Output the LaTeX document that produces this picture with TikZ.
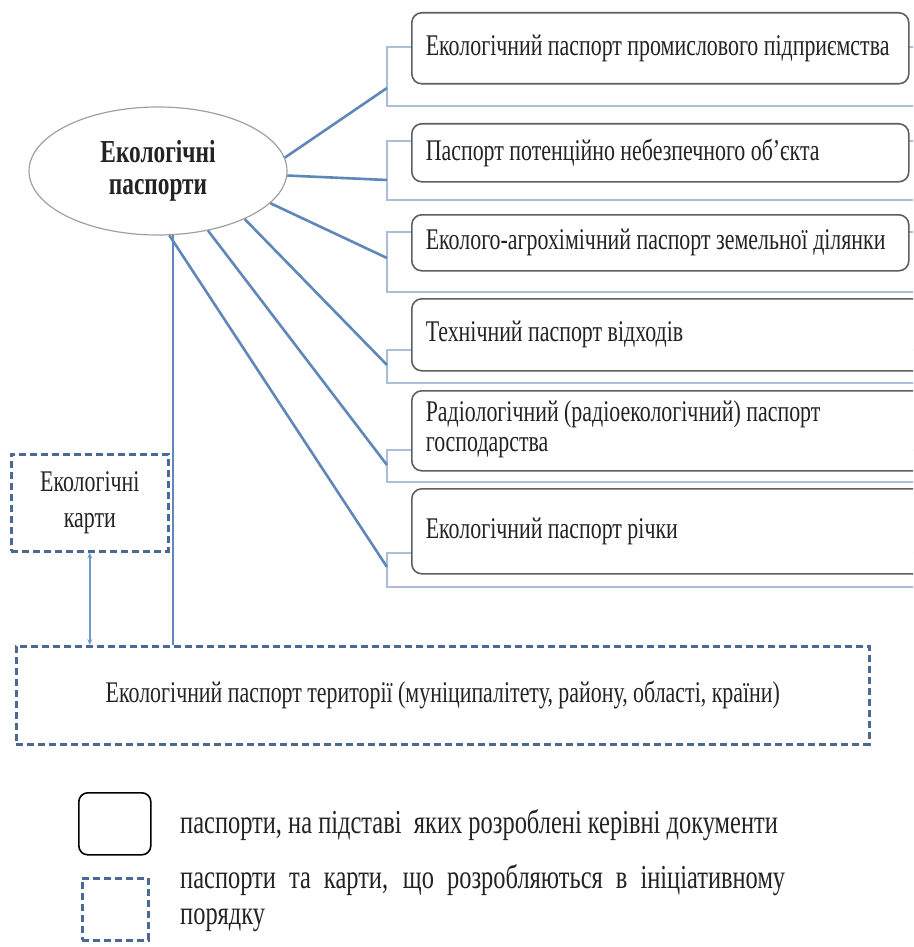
\documentclass[tikz,border=0pt]{standalone}
\usepackage{fontspec}
\setmainfont{Liberation Serif}[FakeStretch=0.73]
\usetikzlibrary{arrows.meta,shapes.geometric}
\definecolor{conn}{RGB}{95,135,185}
\definecolor{brk}{RGB}{170,190,215}
\definecolor{boxgray}{RGB}{95,95,95}
\definecolor{ellgray}{RGB}{160,160,160}
\definecolor{dashc}{RGB}{75,105,150}
\definecolor{arr}{RGB}{110,155,210}
\definecolor{txt}{RGB}{35,35,35}
\newcommand{\lbox}[2][469pt]{\makebox[#1][l]{#2}}
\tikzset{
  item/.style={draw=boxgray, line width=1.6pt, rounded corners=10pt, fill=white, text=txt,
    anchor=north west, inner xsep=14pt, inner ysep=0pt,
    font=\fontsize{30}{30}\selectfont},
  bracket/.style={draw=brk, line width=1.8pt},
  connector/.style={draw=conn, line width=2.6pt},
  vline/.style={draw=conn, line width=2pt},
  dashbox/.style={draw=dashc, line width=2.6pt, dash pattern=on 7pt off 4pt, fill=white,
    text=txt, align=center, anchor=north west, inner sep=0pt},
  dblarrow/.style={draw=arr, line width=1.5pt, {Stealth[length=6pt,width=5pt]}-{Stealth[length=6pt,width=5pt]}},
  legtext/.style={text=txt, anchor=west, inner sep=0pt, font=\fontsize{33.5}{36}\selectfont}
}
\begin{document}
\begin{tikzpicture}[x=1pt,y=-1pt]
\path[use as bounding box] (0,0) rectangle (913,947);
\clip (0,0) rectangle (913,947);
\fill[white] (0,0) rectangle (913,947);

% brackets
\draw[bracket] (387,47) rectangle (940,106);
\draw[bracket] (387,141) rectangle (940,200);
\draw[bracket] (387,232) rectangle (940,292);
\draw[bracket] (387,350) rectangle (940,383);
\draw[bracket] (387,450) rectangle (940,482);
\draw[bracket] (387,553) rectangle (940,587);
\coordinate (c1) at (387,88);
\coordinate (c2) at (387,180);
\coordinate (c3) at (387,258);
\coordinate (c4) at (387,365);
\coordinate (c5) at (387,465);
\coordinate (c6) at (387,567);

% item boxes
\node[item, minimum width=497pt, minimum height=71pt] (b1) at (411,12) {\lbox{Екологічний паспорт промислового підприємства}};
\node[item, minimum width=497pt, minimum height=58pt] (b2) at (411,123) {\lbox{Паспорт потенційно небезпечного об'єкта}};
\node[item, minimum width=497pt, minimum height=56pt] (b3) at (411,214) {\lbox{Еколого-агрохімічний паспорт земельної ділянки}};
\node[item, minimum width=530pt, minimum height=72pt] (b4) at (411,298) {\lbox[502pt]{Технічний паспорт відходів}};
\node[item, minimum width=530pt, minimum height=80pt] (b5) at (411,390)
  {\lbox[502pt]{\begin{tabular}{@{}l@{}}Радіологічний (радіоекологічний) паспорт\\господарства\end{tabular}}};
\node[item, minimum width=530pt, minimum height=85pt] (b6) at (411,488) {\lbox[502pt]{Екологічний паспорт річки}};

% ellipse
\node[ellipse, draw=ellgray, line width=1.2pt, fill=white, minimum width=258pt, minimum height=128pt,
  inner sep=0pt, align=center, text=txt, font=\bfseries\fontsize{32}{36}\selectfont] (ell) at (158,171)
  {\raisebox{-4pt}{Екологічні}\\паспорти};

% territory and maps
\node[dashbox, minimum width=853pt, minimum height=98pt, font=\fontsize{30}{30}\selectfont] (terr) at (15,645)
  {Екологічний паспорт території (муніципалітету, району, області, країни)};
\node[dashbox, minimum width=157pt, minimum height=97pt, font=\fontsize{30}{36}\selectfont] (maps) at (10,453)
  {Екологічні\\карти};

% connectors
\draw[connector] (ell.6) -- (c1);
\draw[connector] (ell.-2) -- (c2);
\draw[connector] (ell.-16) -- (c3);
\draw[connector] (ell.-29.5) -- (c4);
\draw[connector] (ell.-50) -- (c5);
\draw[connector] (ell.-80) -- (c6);
\draw[vline] (ell.-77) -- (ell.-77 |- terr.north);
\draw[dblarrow] (maps.south) -- (maps.south |- terr.north);

% legend
\node[draw=black, line width=1.6pt, rounded corners=9pt, minimum width=72pt, minimum height=62pt,
  anchor=north west, inner sep=0pt] (legs) at (78,792) {};
\node[draw=dashc, line width=2.6pt, dash pattern=on 7pt off 4pt, minimum width=66pt, minimum height=62pt,
  anchor=north west, inner sep=0pt] (legd) at (81,877) {};
\node[legtext] (lt1) at (180,825) {паспорти, на підставі\ \ яких розроблені керівні документи};
\node[legtext, text width=605pt, align=justify, anchor=north west] (lt2) at (180,864)
  {паспорти та карти, що розробляються в ініціативному порядку};
\end{tikzpicture}
\end{document}
